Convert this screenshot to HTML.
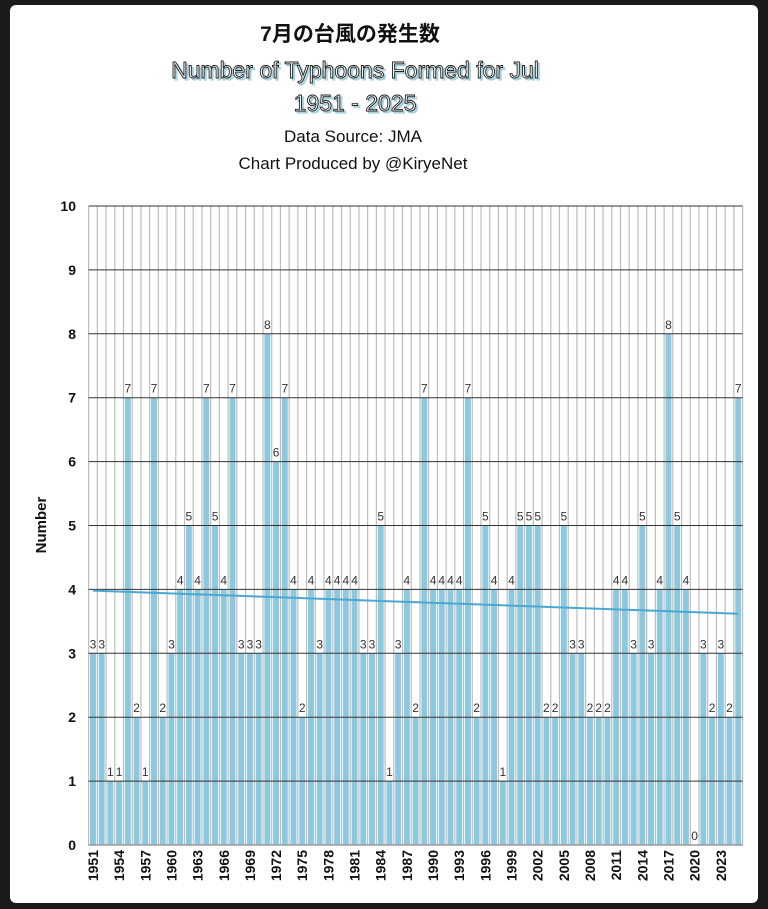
<!DOCTYPE html>
<html><head><meta charset="utf-8"><style>
html,body{margin:0;padding:0;background:#000;}
#wrap{position:relative;width:768px;height:909px;background:#1a1a1a;}
svg{position:absolute;left:0;top:0;}
text{font-family:"Liberation Sans","Noto Sans CJK JP",sans-serif;}
</style></head><body>
<div id="wrap">
<svg id="chart" width="768" height="909">
  <rect x="10" y="5" width="748" height="898" rx="6" fill="#fff"/>
  <text x="350" y="41" text-anchor="middle" font-size="21" font-weight="bold" fill="#111">7月の台風の発生数</text>
  <g>
    <text x="357" y="80" text-anchor="middle" font-size="23" fill="#a8d2de" stroke="#a8d2de" stroke-width="1.2">Number of Typhoons Formed for Jul</text>
    <text x="355" y="78" text-anchor="middle" font-size="23" fill="#fff" stroke="#222" stroke-width="0.9">Number of Typhoons Formed for Jul</text>
  </g>
  <g>
    <text x="357" y="113" text-anchor="middle" font-size="23" fill="#a8d2de" stroke="#a8d2de" stroke-width="1.2">1951 - 2025</text>
    <text x="355" y="111" text-anchor="middle" font-size="23" fill="#fff" stroke="#222" stroke-width="0.9">1951 - 2025</text>
  </g>
  <text x="353" y="142" text-anchor="middle" font-size="17" fill="#111">Data Source: JMA</text>
  <text x="353" y="169" text-anchor="middle" font-size="17" fill="#111">Chart Produced by @KiryeNet</text>
  <text transform="translate(46,525) rotate(-90)" text-anchor="middle" font-size="15" font-weight="bold" fill="#111">Number</text>
  <g id="plot"></g>
</svg>
</div>
<script>
const years = [];
for (let y = 1951; y <= 2025; y++) years.push(y);
const counts = [3,3,1,1,7,2,1,7,2,3,4,5,4,7,5,4,7,3,3,3,8,6,7,4,2,4,3,4,4,4,4,3,3,5,1,3,4,2,7,4,4,4,4,7,2,5,4,1,4,5,5,5,2,2,5,3,3,2,2,2,4,4,3,5,3,4,8,5,4,0,3,2,3,2,7];
const yTicks = [0,1,2,3,4,5,6,7,8,9,10];
const xTickYears = [1951,1954,1957,1960,1963,1966,1969,1972,1975,1978,1981,1984,1987,1990,1993,1996,1999,2002,2005,2008,2011,2014,2017,2020,2023];

const NS = 'http://www.w3.org/2000/svg';
const plot = document.getElementById('plot');
const L = 88.6, R = 742.6, T = 206, B = 845;
const slot = (R - L) / years.length;
const xs = i => L + slot * i;
const ys = v => B - (B - T) * v / 10;
function mk(tag, attrs, parent) {
  const e = document.createElementNS(NS, tag);
  for (const k in attrs) e.setAttribute(k, attrs[k]);
  (parent || plot).appendChild(e);
  return e;
}
for (let i = 0; i <= years.length; i++) {
  const l = mk('line', {x1: xs(i), x2: xs(i), y1: T, y2: B, stroke: '#bdbdbd', 'stroke-width': 1.2});
  
  
}
counts.forEach((v, i) => {
  const r = mk('rect', {x: xs(i) + 1.4, y: ys(v), width: slot - 2.8, height: B - ys(v), fill: '#8cc8de'});
  
  
});
yTicks.forEach(t => {
  const l = mk('line', {x1: L, x2: R, y1: ys(t), y2: ys(t), stroke: '#333', 'stroke-width': 1});
  
  
  const tx = mk('text', {x: 76, y: ys(t) + 5, 'text-anchor': 'end', 'font-size': 14, 'font-weight': 'bold', fill: '#111'});
  tx.textContent = t;
  
  
});
mk('line', {x1: L, x2: R, y1: B, y2: B, stroke: '#999', 'stroke-width': 1.5});
counts.forEach((v, i) => {
  const tx = mk('text', {x: xs(i) + slot / 2, y: ys(v) - 5, 'text-anchor': 'middle', 'font-size': 12, fill: '#333'});
  tx.textContent = v;
  
  
});
const n = counts.length;
const mx = (n - 1) / 2, my = counts.reduce((a, b) => a + b, 0) / n;
let sxy = 0, sxx = 0;
counts.forEach((v, i) => { sxy += (i - mx) * (v - my); sxx += (i - mx) * (i - mx); });
const slope = sxy / sxx, icpt = my - slope * mx;
const tl = mk('line', {x1: xs(0) + slot / 2, y1: ys(icpt), x2: xs(n - 1) + slot / 2, y2: ys(icpt + slope * (n - 1)), stroke: '#4aa8d0', 'stroke-width': 2});


xTickYears.forEach(y => {
  const i = years.indexOf(y);
  const cx = xs(i) + slot / 2 + 5;
  const tx = mk('text', {transform: 'translate(' + cx + ',' + (B + 5) + ') rotate(-90)', 'text-anchor': 'end', 'font-size': 14, 'font-weight': 'bold', fill: '#111'});
  tx.textContent = y;
  
  
});
</script>
</body></html>
